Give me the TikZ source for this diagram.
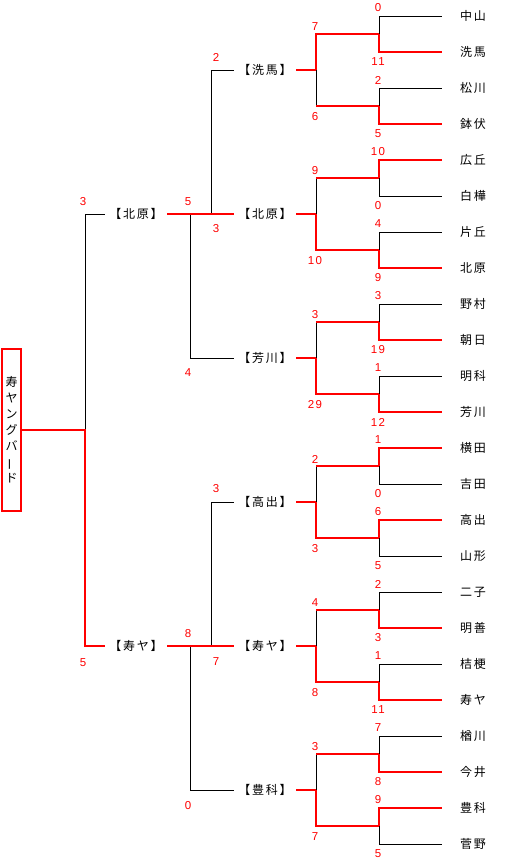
\documentclass[tikz,border=0pt]{standalone}
\usepackage{fontspec}
\usepackage{graphicx}
\newfontfamily\jp[LetterSpace=15]{Noto Sans CJK JP}
\newfontfamily\jpplain{Noto Sans CJK JP}
\newfontfamily\numfont[LetterSpace=12]{Liberation Sans}
\definecolor{wred}{RGB}{255,0,0}
\begin{document}
\begin{tikzpicture}[x=1pt,y=-1pt,
  lose/.style={draw=black,line width=1pt},
  win/.style={draw=wred,line width=2pt},
  team/.style={font=\jp\fontsize{12}{14}\selectfont,inner sep=0pt,minimum width=62pt,minimum height=12pt},
  lab/.style={font=\jp\fontsize{12}{14}\selectfont,inner sep=0pt,minimum width=62pt,minimum height=12pt},
  score/.style={font=\numfont\fontsize{11.5}{12}\selectfont,text=wred,inner sep=0pt},
  champ/.style={draw=wred,line width=2pt,inner sep=0pt,minimum width=19pt,minimum height=162pt,
    align=center,font=\jpplain\fontsize{12}{16}\selectfont}]
\useasboundingbox (0,0) rectangle (505,860);

\foreach \b/\na/\nb/\nc/\nd/\sa/\sb/\sc/\sd/\wa/\wb/\ra/\rb/\wr/\lab in {
  0/中山/洗馬/松川/鉢伏/0/11/2/5/1/1/7/6/0/洗馬,
  1/広丘/白樺/片丘/北原/10/0/4/9/0/1/9/10/1/北原,
  2/野村/朝日/明科/芳川/3/19/1/12/1/1/3/29/1/芳川,
  3/横田/吉田/高出/山形/1/0/6/5/0/0/2/3/1/高出,
  4/二子/明善/桔梗/寿ヤ/2/3/1/11/1/1/4/8/1/寿ヤ,
  5/楢川/今井/豊科/菅野/7/8/9/5/1/0/3/7/1/豊科}{
  \pgfmathsetmacro\yo{16+144*\b}
  \pgfmathtruncatemacro\ia{1+\wa}
  \pgfmathtruncatemacro\ib{3+\wb}
  \pgfmathtruncatemacro\iw{1+\wr}
  \pgfmathtruncatemacro\il{2-\wr}
  \node[team] (t\b1) at (473,\yo) {\na};
  \node[team] (t\b2) at (473,\yo+36) {\nb};
  \node[team] (t\b3) at (473,\yo+72) {\nc};
  \node[team] (t\b4) at (473,\yo+108) {\nd};
  \coordinate (p\b1) at (379,\yo+18);
  \coordinate (p\b2) at (379,\yo+90);
  \coordinate (q\b) at (316,\yo+54);
  \node[lab] (L\b) at (265,\yo+54) {【\lab】};
  % black structure
  \draw[lose] (t\b1.west) -| (p\b1);
  \draw[lose] (t\b2.west) -| (p\b1);
  \draw[lose] (t\b3.west) -| (p\b2);
  \draw[lose] (t\b4.west) -| (p\b2);
  \draw[lose] (p\b1) -| (q\b);
  \draw[lose] (p\b2) -| (q\b);
  % red winners
  \draw[win] (t\b\ia.west) -| (p\b1);
  \draw[win] (t\b\ib.west) -| (p\b2);
  \draw[win] (p\b\il) -- (p\b\il -| q\b);
  \draw[win] (p\b\iw) -| (q\b);
  \draw[win] (q\b) -- (L\b.east);
  % scores
  \node[score] (sa\b) at (378,\yo-8) {\sa};
  \node[score] (sb\b) at (378,\yo+46) {\sb};
  \node[score] (sc\b) at (378,\yo+64) {\sc};
  \node[score] (sd\b) at (378,\yo+118) {\sd};
  \node[score] (ra\b) at (315,\yo+11) {\ra};
  \node[score] (rb\b) at (315,\yo+101) {\rb};
}

% semifinal level
\node[lab] (R1) at (136,214) {【北原】};
\node[lab] (R2) at (136,646) {【寿ヤ】};
\coordinate (J1) at (211,214);
\coordinate (K1) at (190,214);
\coordinate (J2) at (211,646);
\coordinate (K2) at (190,646);
\draw[lose] (L0.west) -| (J1);
\draw[lose] (L2.west) -| (K1);
\draw[win] (L1.west) -- (J1) -- (K1) -- (R1.east);
\draw[lose] (L3.west) -| (J2);
\draw[lose] (L5.west) -| (K2);
\draw[win] (L4.west) -- (J2) -- (K2) -- (R2.east);

% final
\node[champ] (C) at (11.5,430) {寿\\ヤ\\ン\\グ\\バ\\\rotatebox[origin=c]{90}{ー}\\ド};
\coordinate (F) at (85,430);
\draw[lose] (R1.west) -| (F);
\draw[win] (R2.west) -| (F) -- (C.east);

% scores of the upper rounds
\node[score] (u1) at (216,57) {2};
\node[score] (u2) at (216,229) {3};
\node[score] (u3) at (188,202) {5};
\node[score] (u4) at (188,373) {4};
\node[score] (u5) at (216,489) {3};
\node[score] (u6) at (216,662) {7};
\node[score] (u7) at (188,634) {8};
\node[score] (u8) at (188,806) {0};
\node[score] (f1) at (83,202) {3};
\node[score] (f2) at (83,663) {5};
\end{tikzpicture}
\end{document}
